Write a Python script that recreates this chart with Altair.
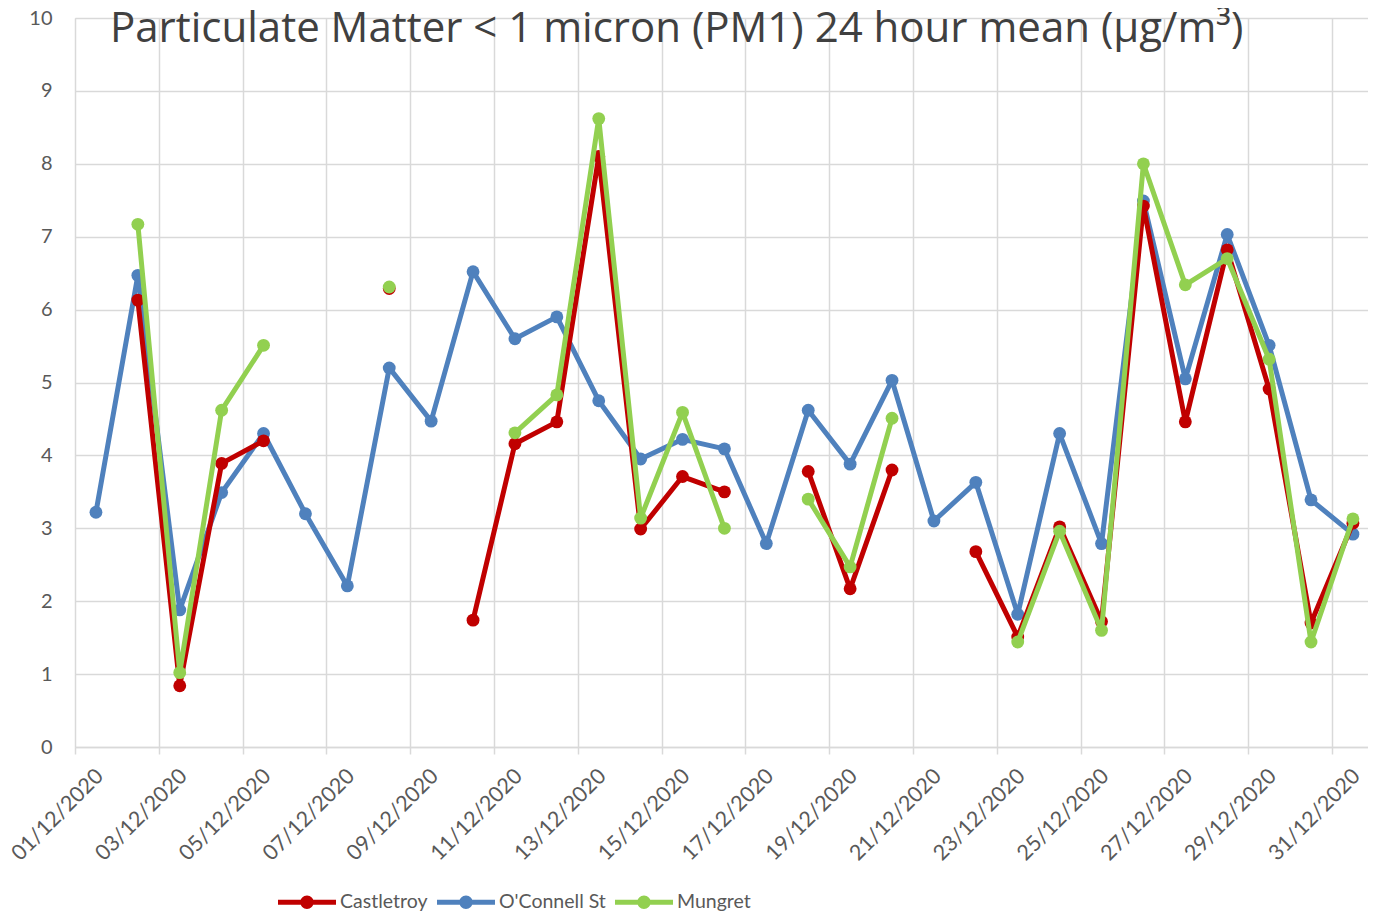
import altair as alt
import pandas as pd

days = list(range(1, 32))
series_names = ["Castletroy", "O'Connell St", "Mungret"]
series_colors = ["#C00000", "#4F81BD", "#92D050"]

castletroy = [None, 6.13, 0.84, 3.89, 4.20, None, None, 6.29, None, 1.74,
              4.16, 4.46, 8.10, 2.99, 3.71, 3.50, None, 3.78, 2.17, 3.80,
              None, 2.68, 1.51, 3.02, 1.72, 7.42, 4.46, 6.82, 4.91, 1.70, 3.07]
oconnell = [3.22, 6.47, 1.88, 3.49, 4.30, 3.20, 2.21, 5.20, 4.47, 6.52,
            5.60, 5.90, 4.75, 3.95, 4.22, 4.09, 2.79, 4.62, 3.88, 5.03,
            3.10, 3.63, 1.82, 4.30, 2.79, 7.49, 5.05, 7.03, 5.51, 3.39, 2.92]
mungret = [None, 7.17, 1.02, 4.62, 5.51, None, None, 6.31, None, None,
           4.31, 4.83, 8.62, 3.14, 4.59, 3.00, None, 3.40, 2.47, 4.51,
           None, None, 1.44, 2.96, 1.60, 8.00, 6.34, 6.70, 5.32, 1.44, 3.13]

grid_ticks = [d - 0.5 for d in range(1, 32, 2)]
label_ticks = list(range(1, 32, 2))
y_ticks = list(range(0, 11))

title_text = "Particulate Matter < 1 micron (PM1) 24 hour mean (µg/m³)"

rows = []
for name, vals in zip(series_names, [castletroy, oconnell, mungret]):
    for d, v in zip(days, vals):
        rows.append({"day": d, "site": name, "value": v})
df = pd.DataFrame(rows)

GRID = "#D9D9D9"
TXT = "#595959"
FONT = "Lato"

xscale = alt.Scale(domain=[0.5, 31.36], nice=False, zero=False)
yscale = alt.Scale(domain=[0, 10], nice=False, zero=True)

grid_axis = alt.Axis(values=grid_ticks, grid=True, gridColor=GRID, gridWidth=1.5,
                     ticks=True, tickSize=7, tickColor=GRID, tickWidth=1.5,
                     labels=False, domain=True, domainColor=GRID, domainWidth=1.5,
                     title=None, orient="bottom")
label_axis = alt.Axis(values=label_ticks,
                      labelExpr="(datum.value < 10 ? '0' : '') + datum.value + '/12/2020'",
                      labelAngle=-45, labelAlign="right", labelBaseline="top",
                      labelPadding=18, labelOffset=-4, ticks=False, grid=False, domain=False,
                      labelFont=FONT, labelFontSize=21.5, labelColor=TXT,
                      labelOverlap=False, labelFlush=False, labelBound=False,
                      title=None, orient="bottom")
y_axis = alt.Axis(values=y_ticks, grid=True, gridColor=GRID, gridWidth=1.5,
                  ticks=False, domain=False, labelPadding=23,
                  labelFont=FONT, labelFontSize=20, labelColor=TXT, title=None)

legend_path = ("M-1,-0.086L1,-0.086L1,0.086L-1,0.086Z "
               "M-0.23,0A0.23,0.23 0 1,1 0.23,0A0.23,0.23 0 1,1 -0.23,0Z")
legend = alt.Legend(orient="none", legendX=203, legendY=855, direction="horizontal",
                    title=None, symbolType=legend_path, symbolSize=3364,
                    symbolStrokeWidth=0, labelFont=FONT, labelFontSize=19.5,
                    labelColor=TXT, labelOffset=4, columnPadding=9, padding=0)

base = alt.Chart(df)
draw_order = ["O'Connell St", "Castletroy", "Mungret"]
layers = []
first = True
for name in draw_order:
    col = series_colors[series_names.index(name)]
    line = base.transform_filter(alt.datum.site == name).mark_line(
        color=col, strokeWidth=5, strokeJoin="round", strokeCap="round",
        invalid="break-paths-show-domains"
    ).encode(
        x=alt.X("day:Q", scale=xscale, axis=grid_axis if first else None),
        y=alt.Y("value:Q", scale=yscale, axis=y_axis),
    )
    pts = base.transform_filter(
        (alt.datum.site == name) & alt.expr.isValid(alt.datum.value)
    ).mark_point(filled=True, size=165, opacity=1).encode(
        x=alt.X("day:Q", scale=xscale, axis=label_axis if first else None),
        y=alt.Y("value:Q", scale=yscale, axis=y_axis),
        color=alt.Color("site:N", scale=alt.Scale(domain=series_names, range=series_colors),
                        legend=legend),
    )
    layers += [line, pts]
    first = False

chart = alt.layer(*layers).resolve_axis(x="independent").properties(
    width=1293, height=729,
    autosize=alt.AutoSizeParams(type="none"),
    padding={"left": 67, "top": 10, "right": 0, "bottom": 164},
    title=alt.TitleParams(title_text, font="Open Sans", fontSize=42, color="#404040",
                          fontWeight="normal", anchor="start", frame="group",
                          dx=35, offset=-76, baseline="alphabetic"),
).configure_view(stroke=None).configure(background="white")

chart.save("out.html", embed_options={"renderer": "svg", "actions": False})
